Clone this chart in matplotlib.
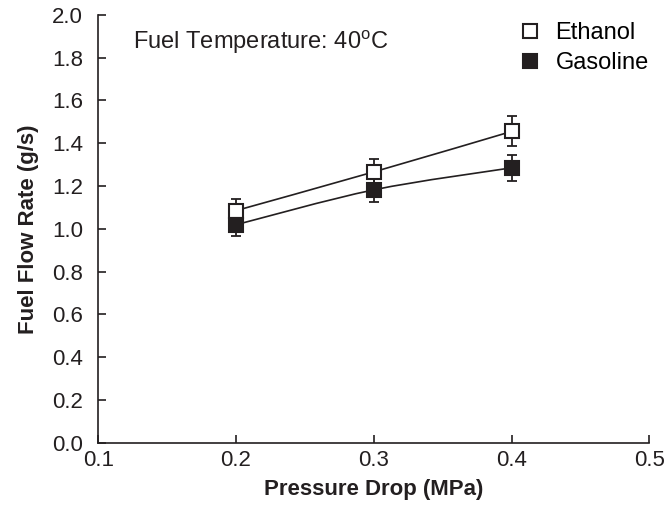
import numpy as np
import matplotlib.pyplot as plt
from matplotlib.path import Path
from matplotlib.patches import PathPatch
from matplotlib.lines import Line2D

plt.rcParams['font.family'] = ['Liberation Sans', 'DejaVu Sans']
plt.rcParams['mathtext.fontset'] = 'custom'
plt.rcParams['mathtext.rm'] = 'Liberation Sans'

# data
pressure = [0.2, 0.3, 0.4]
ethanol = [1.085, 1.266, 1.455]
ethanol_err = [0.054, 0.061, 0.07]
gasoline = [1.019, 1.182, 1.285]
gasoline_err = [0.052, 0.059, 0.06]

ink = '#231f20'


def smooth_path(x, y, t=1 / 6):
    # Excel-style smoothed line: cubic bezier through the points
    x = np.asarray(x, float)
    y = np.asarray(y, float)
    n = len(x)
    verts = [(x[0], y[0])]
    codes = [Path.MOVETO]
    for i in range(n - 1):
        i0 = max(i - 1, 0)
        i3 = min(i + 2, n - 1)
        c1 = (x[i] + (x[i + 1] - x[i0]) * t, y[i] + (y[i + 1] - y[i0]) * t)
        c2 = (x[i + 1] - (x[i3] - x[i]) * t, y[i + 1] - (y[i3] - y[i]) * t)
        verts += [c1, c2, (x[i + 1], y[i + 1])]
        codes += [Path.CURVE4] * 3
    return Path(verts, codes)


fig = plt.figure(figsize=(6.68, 5.13), dpi=100)
ax = fig.add_axes([0.147, 0.137, 0.825, 0.834])

for vals, err, face, lab in [(ethanol, ethanol_err, 'white', 'Ethanol'),
                             (gasoline, gasoline_err, ink, 'Gasoline')]:
    ax.add_patch(PathPatch(smooth_path(pressure, vals), fill=False,
                           edgecolor=ink, lw=1.2, zorder=2))
    ax.errorbar(pressure, vals, yerr=err, fmt='none', ecolor=ink,
                elinewidth=1.3, capsize=3.3, capthick=1.3, zorder=3)
    ax.plot(pressure, vals, ls='none', marker='s', ms=10, mfc=face,
            mec=ink, mew=1.5, zorder=4)

ax.set_xlim(0.1, 0.5)
ax.set_ylim(0.0, 2.0)
ax.set_xticks([0.1, 0.2, 0.3, 0.4, 0.5])
ax.set_yticks(np.arange(0, 2.01, 0.2))
ax.xaxis.set_major_formatter(plt.FormatStrFormatter('%.1f'))
ax.yaxis.set_major_formatter(plt.FormatStrFormatter('%.1f'))
ax.tick_params(direction='in', length=6, width=1.2, colors=ink,
               labelsize=16, labelcolor=ink)
ax.tick_params(axis='x', pad=5)
ax.tick_params(axis='y', pad=11)
for s in ['top', 'right']:
    ax.spines[s].set_visible(False)
for s in ['left', 'bottom']:
    ax.spines[s].set_linewidth(1.2)
    ax.spines[s].set_color(ink)

ax.set_xlabel('Pressure Drop (MPa)', fontsize=16, fontweight='bold',
              color=ink, labelpad=6)
ax.set_ylabel('Fuel Flow Rate (g/s)', fontsize=16, fontweight='bold',
              color=ink, labelpad=9)

ax.text(0.1254, 1.841, 'Fuel Temperature: 40$^\\mathregular{o}$C', fontsize=17,
        color=ink, va='baseline')

handles = [Line2D([], [], ls='none', marker='s', ms=10.5, mfc='white', mec=ink, mew=1.5),
           Line2D([], [], ls='none', marker='s', ms=10.5, mfc=ink, mec=ink, mew=1.5)]
fig.legend(handles, ['Ethanol', 'Gasoline'], loc='upper left',
           bbox_to_anchor=(0.776, 0.957), frameon=False, fontsize=17,
           borderpad=0, borderaxespad=0, handletextpad=0.57,
           labelspacing=0.35, handlelength=1.0)

fig.savefig('out.png', dpi=100)
